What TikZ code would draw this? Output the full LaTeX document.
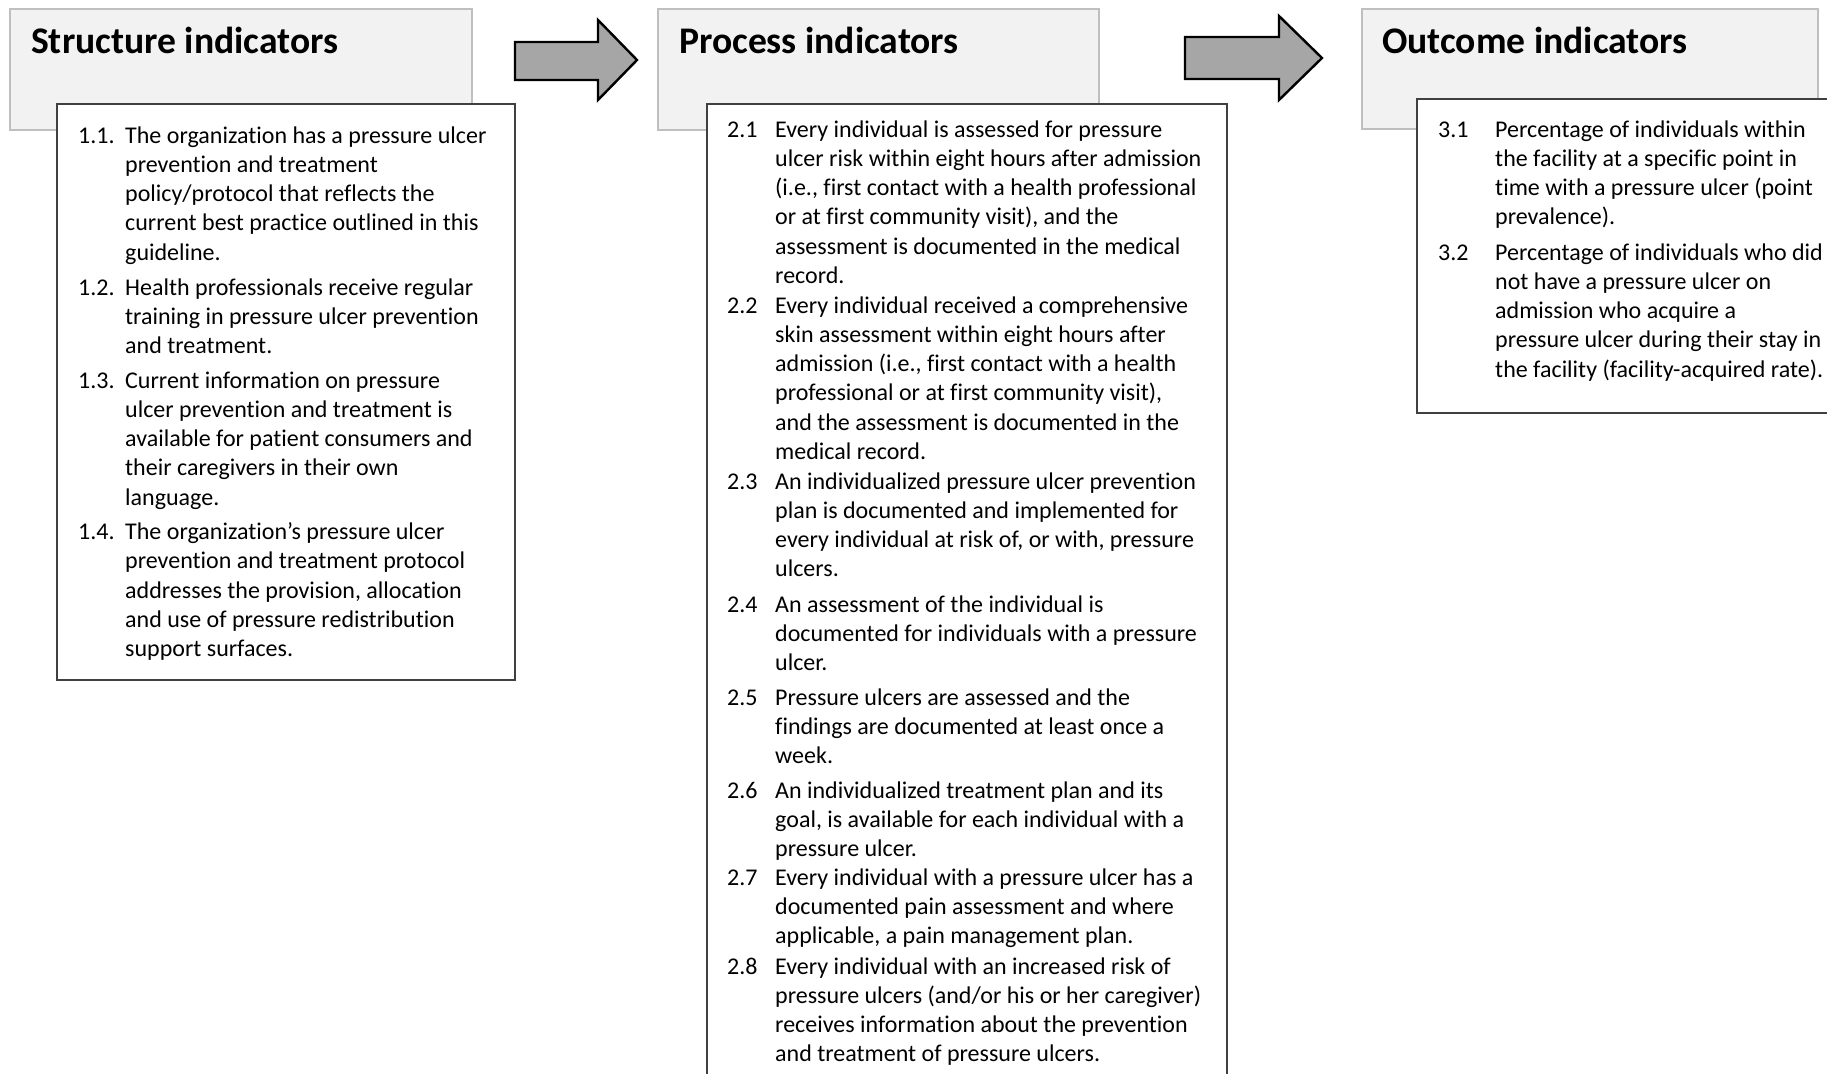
\documentclass[tikz,border=0pt]{standalone}
\usepackage{fontspec}
\setmainfont{Carlito}[Ligatures={NoCommon,NoContextual}]
\definecolor{hdrfill}{HTML}{F2F2F2}
\definecolor{hdrline}{HTML}{BFBFBF}
\definecolor{boxline}{HTML}{404040}
\definecolor{arrfill}{HTML}{A6A6A6}
\tikzset{
  hdrbox/.style={fill=hdrfill,draw=hdrline,line width=1.2pt},
  listbox/.style={fill=white,draw=boxline,line width=1.6pt},
  blockarrow/.style={fill=arrfill,draw=black,line width=2.4pt,line join=miter},
  titletxt/.style={anchor=base west,inner sep=0pt,font=\fontsize{37.6}{45}\selectfont\bfseries},
  bodytxt/.style={anchor=base west,inner sep=0pt,font=\fontsize{24}{29.3}\selectfont},
}
\newcommand{\inditem}[6]{%
  \node[bodytxt] (#1n) at (#2,#4) {#5};
  \foreach \t [count=\k] in {#6} {\node[bodytxt] (#1l\k) at (#3,{#4+(\k-1)*29.3}) {\t};}
}
\begin{document}
\begin{tikzpicture}[x=1pt,y=-1pt]
\useasboundingbox (0,0) rectangle (1827,1073);
\clip (0,0) rectangle (1827,1073);
\fill[white] (0,0) rectangle (1827,1073);

% headers
\draw[hdrbox] (10,9) rectangle (472,130);
\node[titletxt] (t1) at (31,54) {Structure indicators};
\draw[hdrbox] (658,9) rectangle (1099,130);
\node[titletxt] (t2) at (679,54) {Process indicators};
\draw[hdrbox] (1362,9) rectangle (1818,129);
\node[titletxt] (t3) at (1382,54) {Outcome indicators};

% block arrows
\draw[blockarrow] (515,42) -- (598,42) -- (598,20) -- (637,60) -- (598,100) -- (598,80) -- (515,80) -- cycle;
\draw[blockarrow] (1185,37) -- (1279,37) -- (1279,16) -- (1322,58) -- (1279,100) -- (1279,79) -- (1185,79) -- cycle;

% list boxes
\draw[listbox] (57,104) rectangle (515,680);
\draw[listbox] (707,104) rectangle (1227,1090);
\draw[listbox] (1417,99) rectangle (1840,413);

% structure items
\inditem{a1}{78}{125}{143}{1.1.}{{The organization has a pressure ulcer},{prevention and treatment},{policy/protocol that reflects the},{current best practice outlined in this},{guideline.}}
\inditem{a2}{78}{125}{295}{1.2.}{{Health professionals receive regular},{training in pressure ulcer prevention},{and treatment.}}
\inditem{a3}{78}{125}{388}{1.3.}{{Current information on pressure},{ulcer prevention and treatment is},{available for patient consumers and},{their caregivers in their own},{language.}}
\inditem{a4}{78}{125}{539.5}{1.4.}{{The organization’s pressure ulcer},{prevention and treatment protocol},{addresses the provision, allocation},{and use of pressure redistribution},{support surfaces.}}

% process items
\inditem{b1}{727}{775}{137}{2.1}{{Every individual is assessed for pressure},{ulcer risk within eight hours after admission},{(i.e., first contact with a health professional},{or at first community visit), and the},{assessment is documented in the medical},{record.}}
\inditem{b2}{727}{775}{313}{2.2}{{Every individual received a comprehensive},{skin assessment within eight hours after},{admission (i.e., first contact with a health},{professional or at first community visit),},{and the assessment is documented in the},{medical record.}}
\inditem{b3}{727}{775}{489}{2.3}{{An individualized pressure ulcer prevention},{plan is documented and implemented for},{every individual at risk of, or with, pressure},{ulcers.}}
\inditem{b4}{727}{775}{612}{2.4}{{An assessment of the individual is},{documented for individuals with a pressure},{ulcer.}}
\inditem{b5}{727}{775}{705}{2.5}{{Pressure ulcers are assessed and the},{findings are documented at least once a},{week.}}
\inditem{b6}{727}{775}{798}{2.6}{{An individualized treatment plan and its},{goal, is available for each individual with a},{pressure ulcer.}}
\inditem{b7}{727}{775}{885}{2.7}{{Every individual with a pressure ulcer has a},{documented pain assessment and where},{applicable, a pain management plan.}}
\inditem{b8}{727}{775}{974}{2.8}{{Every individual with an increased risk of},{pressure ulcers (and/or his or her caregiver)},{receives information about the prevention},{and treatment of pressure ulcers.}}

% outcome items
\inditem{c1}{1438}{1495}{137}{3.1}{{Percentage of individuals within},{the facility at a specific point in},{time with a pressure ulcer (point},{prevalence).}}
\inditem{c2}{1438}{1495}{260}{3.2}{{Percentage of individuals who did},{not have a pressure ulcer on},{admission who acquire a},{pressure ulcer during their stay in},{the facility (facility-acquired rate).}}
\end{tikzpicture}
\end{document}
